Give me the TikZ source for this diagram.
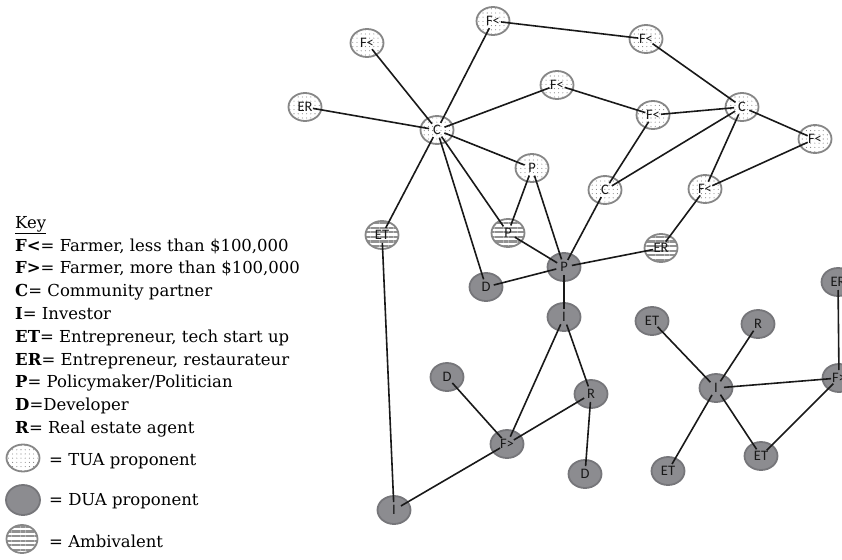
\documentclass[tikz,border=0pt]{standalone}
\usepackage{fontspec}
\newfontfamily\nodefont{Carlito}
\newfontfamily\keyfont{DejaVu Serif}
\usetikzlibrary{shapes.geometric,patterns.meta}
\definecolor{duafill}{RGB}{140,140,144}
\definecolor{duaedge}{RGB}{118,118,122}
\definecolor{tuaedge}{RGB}{135,135,135}
\definecolor{dotcol}{RGB}{130,130,130}
\definecolor{stripecol}{RGB}{145,145,145}
\tikzset{
  actor/.style={ellipse, minimum width=33pt, minimum height=28pt, inner sep=0pt,
    line width=1.8pt, font=\nodefont\fontsize{14.5}{15}\selectfont, text=black!90},
  tua/.style={actor, draw=tuaedge, preaction={fill=white},
    pattern={Dots[radius=0.55pt, distance=4.2pt]}, pattern color=dotcol},
  dua/.style={actor, draw=duaedge, fill=duafill},
  amb/.style={actor, draw=tuaedge, preaction={fill=white},
    pattern={Lines[angle=0, distance=4.6pt, line width=2.2pt]}, pattern color=stripecol},
  link/.style={line width=1.6pt, draw=black!90, shorten <=8pt, shorten >=8pt},
  keyline/.style={anchor=base west, inner sep=0pt, font=\keyfont\fontsize{16.5}{18}\selectfont},
}
\begin{document}
\begin{tikzpicture}[x=1pt,y=-1pt]
\useasboundingbox (0,0) rectangle (842,559);
\clip (0,0) rectangle (842,559);
% upper cluster
\node[tua] (ER1) at (305,107) {ER};
\node[tua] (Fa)  at (367,43)  {F<};
\node[tua] (Fb)  at (493,21)  {F<};
\node[tua] (Ftr) at (646,39)  {F<};
\node[tua] (C1)  at (437,130) {C};
\node[tua] (Fc)  at (557,85)  {F<};
\node[tua] (Fd)  at (653,115) {F<};
\node[tua] (C2)  at (742,107) {C};
\node[tua] (Fe)  at (815,139) {F<};
\node[tua] (P1)  at (532,168) {P};
\node[tua] (C3)  at (605,190) {C};
\node[tua] (Ff)  at (705,189) {F<};
\node[amb] (ET1) at (382,235) {ET};
\node[amb] (P3)  at (508,233) {P};
\node[amb] (ER2) at (661,248) {ER};
\node[dua] (P2)  at (564,267) {P};
\node[dua] (D1)  at (486,287) {D};
\node[dua] (I1)  at (564,317) {I};
\node[dua] (D2)  at (447,377) {D};
\node[dua] (R1)  at (591,394) {R};
\node[dua] (Fg)  at (507,444) {F>};
\node[dua] (D3)  at (585,474) {D};
\node[dua] (I3)  at (394,510) {I};
% right cluster
\node[dua] (ET2) at (652,321) {ET};
\node[dua] (R2)  at (758,324) {R};
\node[dua] (I2)  at (716,388) {I};
\node[dua] (F2)  at (839,378) {F>};
\node[dua] (ER3) at (838,282) {ER};
\node[dua] (ET3) at (761,456) {ET};
\node[dua] (ET4) at (668,471) {ET};
% links
\foreach \a/\b in {C1/Fa, C1/Fb, C1/ER1, C1/Fc, C1/P1, C1/ET1, C1/D1, C1/P3,
  Fb/Ftr, Ftr/C2, Fc/Fd, Fd/C2, C2/Fe, C2/C3, Fd/C3, C2/Ff, Fe/Ff, Ff/ER2,
  C3/P2, ER2/P2, P1/P3, P1/P2, P3/P2, D1/P2, P2/I1, I1/Fg, I1/R1, R1/Fg,
  R1/D3, D2/Fg, Fg/I3, ET1/I3,
  I2/ET2, I2/R2, I2/F2, I2/ET4, I2/ET3, F2/ET3, F2/ER3}
  \draw[link] (\a.center) -- (\b.center);
% key
\node[keyline] (k0) at (15,228) {\underline{Key}};
\node[keyline] (k1) at (15,251) {\textbf{F<}= Farmer, less than \$100,000};
\node[keyline] (k2) at (15,273.8) {\textbf{F>}= Farmer, more than \$100,000};
\node[keyline] (k3) at (15,296.6) {\textbf{C}= Community partner};
\node[keyline] (k4) at (15,319.4) {\textbf{I}= Investor};
\node[keyline] (k5) at (15,342.2) {\textbf{ET}= Entrepreneur, tech start up};
\node[keyline] (k6) at (15,365) {\textbf{ER}= Entrepreneur, restaurateur};
\node[keyline] (k7) at (15,387.8) {\textbf{P}= Policymaker/Politician};
\node[keyline] (k8) at (15,410.6) {\textbf{D}=Developer};
\node[keyline] (k9) at (15,433.4) {\textbf{R}= Real estate agent};
\node[tua, minimum width=33pt, minimum height=27pt] (kt) at (23,458) {};
\node[dua, minimum width=34pt, minimum height=30pt] (kd) at (23,500) {};
\node[amb, minimum width=31pt, minimum height=28pt] (ka) at (22,539) {};
\node[keyline] (kt1) at (49,465) {= TUA proponent};
\node[keyline] (kd1) at (49,505.5) {= DUA proponent};
\node[keyline] (ka1) at (49,547) {= Ambivalent};
\end{tikzpicture}
\end{document}
